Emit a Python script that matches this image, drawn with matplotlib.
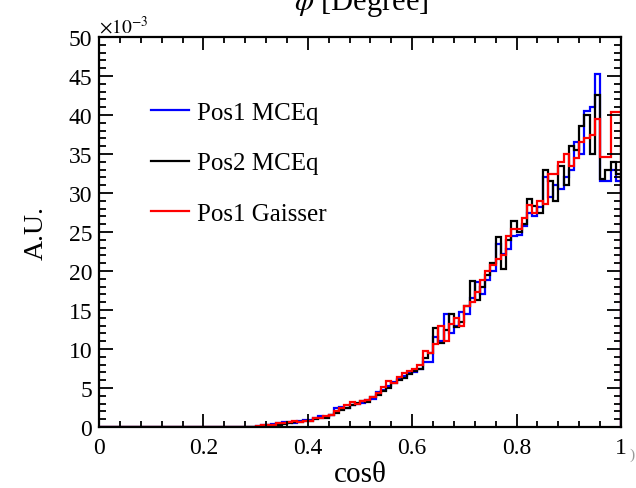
import matplotlib
matplotlib.use('Agg')
import matplotlib.pyplot as plt
from matplotlib.ticker import MultipleLocator
import numpy as np

# cos(theta) binning: 100 bins between 0 and 1, values in units of 1e-3
bin_edges = np.linspace(0, 1, 101)
zeros_low = [0.0] * 30

pos1_mceq = zeros_low + [
    0.1, 0.3, 0.2, 0.4, 0.5, 0.6, 0.7, 0.5, 0.8, 0.9,
    0.9, 1.1, 1.4, 1.3, 1.5, 2.5, 2.6, 2.4, 2.8, 3.0,
    3.1, 3.4, 3.6, 4.5, 4.8, 5.3, 5.8, 6.1, 6.6, 6.9,
    7.0, 7.5, 8.3, 8.3, 11.5, 11.0, 14.5, 12.0, 13.0, 14.8,
    14.5, 16.5, 18.6, 17.0, 18.8, 20.0, 23.5, 22.2, 22.8, 24.5,
    24.6, 25.8, 27.5, 27.0, 28.2, 32.0, 29.5, 31.0, 30.5, 32.0,
    33.0, 36.5, 35.0, 40.5, 41.0, 45.2, 31.5, 31.5, 33.0, 31.5]

pos2_mceq = zeros_low + [
    0.0, 0.1, 0.2, 0.3, 0.3, 0.4, 0.5, 0.6, 0.6, 0.8,
    0.8, 1.0, 1.1, 1.2, 1.5, 1.8, 2.2, 2.4, 2.8, 3.1,
    3.3, 3.2, 3.9, 4.1, 4.6, 5.0, 5.6, 6.0, 6.3, 6.8,
    7.2, 7.5, 8.8, 9.5, 12.7, 10.8, 12.5, 14.5, 12.8, 13.5,
    15.5, 18.7, 16.3, 18.0, 19.5, 21.0, 24.3, 20.3, 24.0, 26.4,
    25.0, 26.0, 29.2, 28.3, 27.5, 33.0, 31.5, 29.0, 33.5, 31.0,
    36.0, 35.5, 38.6, 40.0, 35.0, 42.5, 31.8, 33.0, 34.0, 32.5]

pos1_gaisser = zeros_low + [
    0.1, 0.3, 0.2, 0.3, 0.5, 0.5, 0.7, 0.8, 0.7, 0.8,
    0.8, 1.1, 1.2, 1.4, 1.6, 2.0, 2.4, 2.8, 3.2, 3.0,
    3.3, 3.4, 3.8, 4.3, 5.1, 5.9, 5.7, 6.4, 6.9, 7.2,
    7.4, 8.0, 9.7, 9.5, 10.6, 13.0, 11.0, 13.2, 14.0, 13.0,
    15.5, 16.0, 17.3, 18.8, 20.0, 20.8, 21.5, 22.0, 24.5, 25.4,
    25.4, 26.8, 28.5, 27.5, 29.0, 28.6, 32.4, 32.5, 34.0, 35.0,
    33.5, 34.5, 36.5, 37.0, 37.5, 39.5, 34.6, 34.6, 40.4, 40.4]

labels = ['Pos1 MCEq', 'Pos2 MCEq', 'Pos1 Gaisser']
colors = ['#0000ff', 'black', '#ff0000']

plt.rcParams['font.family'] = ['Liberation Serif', 'DejaVu Serif']
plt.rcParams['mathtext.fontset'] = 'stix'

fig = plt.figure(figsize=(6.36, 4.89), dpi=100)
ax = fig.add_axes([0.1557, 0.1247, 0.8207, 0.7976])

for vals, lab, col in zip([pos1_mceq, pos2_mceq, pos1_gaisser], labels, colors):
    ax.stairs(vals, bin_edges, color=col, lw=1.6, label=lab, baseline=0)

ax.set_xlim(0, 1)
ax.set_ylim(0, 50)
ax.xaxis.set_major_locator(MultipleLocator(0.2))
ax.xaxis.set_minor_locator(MultipleLocator(0.04))
ax.yaxis.set_major_locator(MultipleLocator(5))
ax.yaxis.set_minor_locator(MultipleLocator(1))
ax.set_xticks([0, 0.2, 0.4, 0.6, 0.8, 1.0])
ax.set_xticklabels(['0', '0.2', '0.4', '0.6', '0.8', '1'])

ax.tick_params(which='both', direction='in', top=True, right=True,
               labelsize=17, width=1.3, colors='black')
ax.tick_params(axis='x', which='major', length=9.5, pad=7)
ax.tick_params(axis='x', which='minor', length=4.5)
ax.tick_params(axis='y', which='major', length=10, pad=5)
ax.tick_params(axis='y', which='minor', length=5)
for sp in ax.spines.values():
    sp.set_linewidth(1.6)

ax.set_xlabel('cosθ', fontsize=21, labelpad=2)
ax.set_ylabel('A.U.', fontsize=20, labelpad=14)
ax.text(0.0, 1.0, r'$\times10^{-3}$', transform=ax.transAxes, fontsize=14,
        ha='left', va='bottom')

# title of the pad, cut off by the top edge
fig.text(0.569, 0.98, r'$\phi$ [Degree]', fontsize=22, ha='center', va='baseline')
# fragment of the neighbouring pad at the right edge
fig.text(0.993, 0.068, ')', fontsize=11, color='#999999', ha='center', va='center')

ax.legend(loc='upper left', bbox_to_anchor=(0.0996, 0.835), frameon=False,
          fontsize=18, handlelength=1.52, handletextpad=0.32, labelspacing=1.12,
          borderpad=0, borderaxespad=0)

plt.savefig('out.png', dpi=100)
